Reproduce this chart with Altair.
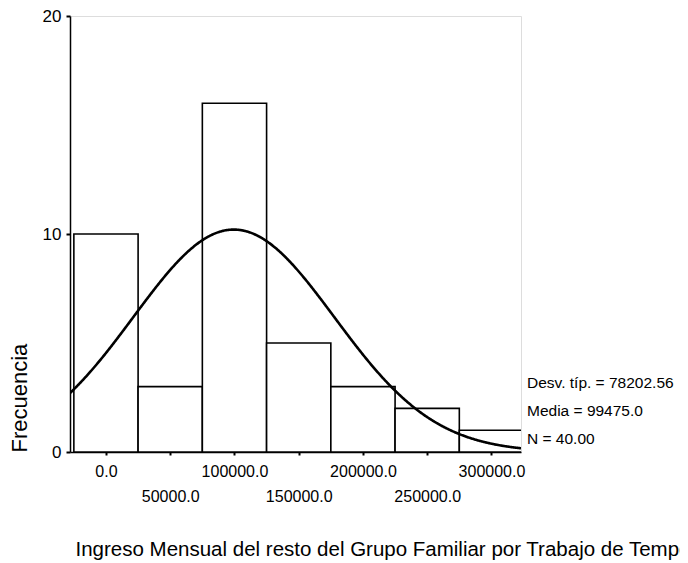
import altair as alt
import pandas as pd

# ---- data ----
bin_centers = [0, 50000, 100000, 150000, 200000, 250000, 300000]
counts = [10, 3, 16, 5, 3, 2, 1]
bin_width = 50000
mean_value = 99475.0
std_dev = 78202.56
n_obs = 40
x_tick_values = [0, 50000, 100000, 150000, 200000, 250000, 300000]
y_tick_values = [0, 10, 20]
stats_lines = ["Desv. típ. = 78202.56", "Media = 99475.0", "N = 40.00"]
x_title = "Ingreso Mensual del resto del Grupo Familiar por Trabajo de Temporada"
y_title = "Frecuencia"

x_domain = [-28000, 323000]
y_domain = [0, 20]
FONT = "Liberation Sans"

hist_df = pd.DataFrame({"center": bin_centers, "count": counts})

x_scale = alt.Scale(domain=x_domain, nice=False, zero=False)
y_scale = alt.Scale(domain=y_domain, nice=False)

x_axis = alt.Axis(
    values=x_tick_values,
    labelExpr="datum.value % 100000 == 0 ? format(datum.value, '.1f') : ['', format(datum.value, '.1f')]",
    labelLineHeight=25,
    labelFontSize=16,
    labelPadding=8,
    labelOverlap=False,
    labelFlush=False,
    labelColor="black",
    tickSize=3,
    tickWidth=2,
    tickColor="black",
    domainColor="black",
    domainWidth=1.5,
    grid=False,
    title=x_title,
    titleFontSize=20.5,
    titleFontWeight="normal",
    titleColor="black",
    titleAlign="left",
    titleBaseline="alphabetic",
    titleX=5,
    titleY=103,
)

y_axis = alt.Axis(
    values=y_tick_values,
    labelFontSize=17,
    labelPadding=5,
    labelColor="black",
    tickSize=4,
    tickWidth=2,
    tickColor="black",
    domainColor="black",
    domainWidth=1.5,
    grid=False,
    title=y_title,
    titleFontSize=22,
    titleFontWeight="normal",
    titleColor="black",
    titleAngle=270,
    titleAlign="left",
    titleBaseline="alphabetic",
    titleX=-44,
    titleY=436,
)

bars = (
    alt.Chart(hist_df)
    .transform_calculate(
        start=f"datum.center - {bin_width / 2}",
        end=f"datum.center + {bin_width / 2}",
    )
    .mark_rect(fill="white", stroke="black", strokeWidth=1.6, clip=True)
    .encode(
        x=alt.X("start:Q", scale=x_scale, axis=x_axis),
        x2="end:Q",
        y=alt.Y("count:Q", scale=y_scale, axis=y_axis),
        y2=alt.datum(0),
    )
)

curve = (
    alt.Chart(alt.sequence(start=x_domain[0], stop=x_domain[1] + 1, step=500, as_="x"))
    .transform_calculate(
        y=f"{n_obs * bin_width} * densityNormal(datum.x, {mean_value}, {std_dev})"
    )
    .mark_line(color="black", strokeWidth=2.6, clip=True)
    .encode(
        x=alt.X("x:Q", scale=x_scale),
        y=alt.Y("y:Q", scale=y_scale),
    )
)

stats = (
    alt.Chart(pd.DataFrame({"k": [0]}))
    .mark_text(
        text=stats_lines,
        align="left",
        baseline="alphabetic",
        lineHeight=28,
        fontSize=15.5,
        font=FONT,
        color="black",
    )
    .encode(x=alt.value(457), y=alt.value(372))
)

chart = (
    alt.layer(bars, curve, stats)
    .properties(
        width=451,
        height=436,
        autosize=alt.AutoSizeParams(type="none"),
        padding={"left": 62, "top": 8, "right": 159, "bottom": 110},
        background="white",
    )
    .configure_view(stroke="#555555", strokeWidth=1.2)
    .configure(font=FONT)
)

chart.save("out.html", embed_options={"renderer": "svg", "actions": False})
